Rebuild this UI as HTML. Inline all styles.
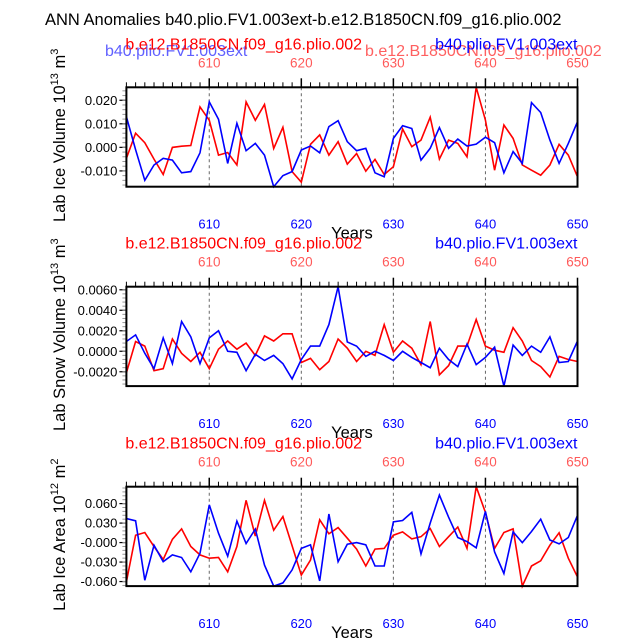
<!DOCTYPE html>
<html><head><meta charset="utf-8"><style>
html,body{margin:0;padding:0;background:#fff}
svg{display:block;font-family:"Liberation Sans",sans-serif}
</style></head><body>
<svg id="chart" width="638" height="638" viewBox="0 0 638 638" xmlns="http://www.w3.org/2000/svg">
<text x="45" y="25" font-size="16.5" fill="#000">ANN Anomalies b40.plio.FV1.003ext-b.e12.B1850CN.f09_g16.plio.002</text>
<text x="105" y="56" font-size="16" fill="#6060ff">b40.plio.FV1.003ext</text>
<text x="365" y="56" font-size="16" fill="#ff6060">b.e12.B1850CN.f09_g16.plio.002</text>
</svg>
<script>
const years = [];
for (let y = 601; y <= 650; y++) years.push(y);
const xTicks = [610, 620, 630, 640, 650];

const iceVolRed = [-0.0047,0.006,0.002,-0.005,-0.0115,0.0,0.0005,0.0008,0.0172,0.0115,-0.0033,-0.0022,-0.0075,0.0193,0.0115,0.0182,-0.0005,0.0085,-0.0103,-0.0148,0.0013,0.0053,-0.0033,0.0024,-0.0071,-0.0026,-0.0101,-0.0051,-0.0115,-0.0082,0.0078,0.0003,0.0031,0.0128,-0.005,0.0031,0.0017,-0.004,0.0255,0.0116,-0.0097,0.0095,0.0038,-0.0075,-0.0097,-0.0118,-0.0075,0.0013,-0.0033,-0.0125];
const iceVolBlue = [0.013,-0.001,-0.014,-0.0075,-0.0047,-0.0054,-0.0108,-0.0103,-0.0023,0.0193,0.0119,-0.0068,0.0102,-0.0014,0.0017,-0.0033,-0.0167,-0.012,-0.0103,-0.0011,0.0006,-0.0023,0.0088,0.0113,0.0024,-0.0014,-0.0004,-0.0108,-0.0125,0.0038,0.0092,0.008,-0.0054,-0.0004,0.0084,-0.0004,0.0035,0.0006,0.0014,0.0043,0.002,-0.0108,-0.0018,-0.0068,0.019,0.0148,0.0031,-0.0068,0.0017,0.0109];
const iceVolTicks = [-0.010, 0.000, 0.010, 0.020];
const iceVolTickLabels = ["-0.010","0.000","0.010","0.020"];

const snowRed = [-0.0021,0.00095,0.0005,-0.0019,-0.0017,0.0012,-0.0002,-0.001,-0.0001,-0.0017,0.0002,0.001,0.0002,0.0008,-0.0004,0.0015,0.001,0.0017,0.0017,-0.0011,-0.0007,-0.0018,-0.001,0.0012,0.0003,-0.001,0.0,-0.0004,0.0026,-0.0001,0.001,0.0003,-0.0013,0.0029,-0.0023,-0.0014,0.0005,0.0005,0.0031,0.0005,0.0001,-0.0001,0.0023,0.001,-0.0009,-0.0015,-0.0025,-0.0005,-0.0008,-0.001];
const snowBlue = [0.00095,0.0016,-0.0002,-0.0017,0.0013,-0.0012,0.0029,0.0014,-0.0012,0.0013,0.002,0.0,-0.0001,-0.0019,-0.0003,-0.0009,-0.0004,-0.0012,-0.0027,-0.0008,0.0005,0.0005,0.0026,0.0063,0.0009,0.0005,-0.0005,0.0,-0.0004,-0.0009,0.0,-0.0006,-0.0011,-0.0016,0.0003,-0.0008,-0.0015,0.0007,-0.0013,-0.0006,0.0004,-0.0034,0.0006,-0.0004,0.0005,-0.0001,0.0014,-0.0011,-0.001,0.001];
const snowTicks = [-0.002, 0.0, 0.002, 0.004, 0.006];
const snowTickLabels = ["-0.0020","0.0000","0.0020","0.0040","0.0060"];

const areaRed = [-0.0605,0.0114,0.0155,-0.006,-0.026,0.005,0.021,-0.006,-0.019,-0.024,-0.023,-0.045,-0.006,0.065,0.010,0.065,0.019,0.040,-0.005,-0.050,-0.027,0.035,0.0135,0.023,0.0067,-0.01,-0.036,-0.010,-0.009,0.0114,0.0165,0.0057,0.009,0.0217,-0.006,0.009,0.024,-0.009,0.086,0.0465,-0.009,0.0155,0.021,-0.067,-0.036,-0.028,-0.004,0.015,-0.024,-0.053];
const areaBlue = [0.037,0.0335,-0.058,-0.004,-0.0295,-0.019,-0.023,-0.045,-0.0165,0.058,0.0145,-0.021,0.033,-0.0015,0.0207,-0.0347,-0.067,-0.062,-0.042,-0.009,-0.0035,-0.059,0.044,-0.0295,-0.0025,0.0,-0.0035,-0.036,-0.036,0.032,0.034,0.0465,-0.0175,0.030,0.073,0.039,0.0078,0.0015,-0.008,0.048,-0.0145,-0.0476,0.0165,0.0,0.017,0.036,0.004,-0.002,0.0078,0.042];
const areaTicks = [-0.06, -0.03, 0.0, 0.03, 0.06];
const areaTickLabels = ["-0.060","-0.030","-0.000","0.030","0.060"];

const NS = "http://www.w3.org/2000/svg";
const svg = document.getElementById('chart');
function mk(tag, attrs, parent) {
  const e = document.createElementNS(NS, tag);
  for (const k in attrs) e.setAttribute(k, attrs[k]);
  (parent || svg).appendChild(e);
  return e;
}

function panel(idx, top, red, blue, ticks, tickLabels, ytitle, unitExp, unitPow, key) {
  const L = 126.4, R = 577.5, T = top, B = top + 99.4;
  const g = mk('g', {});
  
  
  const all = red.concat(blue);
  const vmin = Math.min(...all), vmax = Math.max(...all);
  const xs = v => L + (v - years[0]) / (years[years.length - 1] - years[0]) * (R - L);
  const ys = v => B - (v - vmin) / (vmax - vmin) * (B - T);

  xTicks.slice(0, 4).forEach(t => {
    const l = mk('line', {x1: xs(t), x2: xs(t), y1: T, y2: B, stroke: '#666', 'stroke-width': 1, 'stroke-dasharray': '3,3'}, g);
    
    
  });
  years.forEach(y => {
    const major = y % 10 === 0;
    const l = mk('line', {x1: xs(y), x2: xs(y), y1: T, y2: T - (major ? 9 : 5), stroke: '#000', 'stroke-width': major ? 1.5 : 1}, g);
    
    
  });
  ticks.forEach((t, i) => {
    const l = mk('line', {x1: L, x2: L - 7, y1: ys(t), y2: ys(t), stroke: '#000', 'stroke-width': 1.2}, g);
    
    
    const tx = mk('text', {x: L - 9, y: ys(t) + 4.5, 'font-size': 13, 'text-anchor': 'end', fill: '#000'}, g);
    
    
    tx.textContent = tickLabels[i];
  });
  const step = (ticks[1] - ticks[0]) / 5;
  for (let v = ticks[0] - 5 * step; v <= vmax + 1e-12; v += step) {
    if (v < vmin - 1e-12) continue;
    const l = mk('line', {x1: L, x2: L - 4, y1: ys(v), y2: ys(v), stroke: '#999', 'stroke-width': 1}, g);
    
    
  }
  [[red, '#ff0000', 'red-series'], [blue, '#0000ff', 'blue-series']].forEach(([arr, col, nm]) => {
    const p = mk('polyline', {points: arr.map((v, i) => xs(years[i]).toFixed(1) + ',' + ys(v).toFixed(1)).join(' '), fill: 'none', stroke: col, 'stroke-width': 1.6}, g);
    
    
  });
  const box = mk('rect', {x: L, y: T, width: R - L, height: B - T, fill: 'none', stroke: '#000', 'stroke-width': 2}, g);
  
  
  xTicks.forEach(t => {
    const a = mk('text', {x: xs(t), y: T - 20, 'font-size': 13.5, 'text-anchor': 'middle', fill: '#ff5a5a'}, g);
    
    
    a.textContent = t;
    const b = mk('text', {x: xs(t), y: B + 42, 'font-size': 13, 'text-anchor': 'middle', fill: '#0000ff'}, g);
    
    
    b.textContent = t;
  });
  const h1 = mk('text', {x: L - 1, y: T - 38, 'font-size': 16, fill: '#ff0000'}, g);
  
  
  h1.textContent = 'b.e12.B1850CN.f09_g16.plio.002';
  const h2 = mk('text', {x: R, y: T - 38, 'font-size': 16, 'text-anchor': 'end', fill: '#0000ff'}, g);
  
  
  h2.textContent = 'b40.plio.FV1.003ext';
  const xt = mk('text', {x: (L + R) / 2, y: B + 52, 'font-size': 16.5, 'text-anchor': 'middle', fill: '#000'}, g);
  
  
  xt.textContent = 'Years';
  const cy = T + 48;
  const yt = mk('text', {x: 0, y: 0, 'font-size': 16.5, 'text-anchor': 'middle', fill: '#000', transform: 'translate(65,' + cy + ') rotate(-90)'}, g);
  
  
  yt.appendChild(document.createTextNode(ytitle + ' 10'));
  const s1 = mk('tspan', {'font-size': 11, dy: -7}, yt); s1.textContent = unitExp;
  const s2 = mk('tspan', {dy: 7}, yt); s2.textContent = ' m';
  const s3 = mk('tspan', {'font-size': 11, dy: -7}, yt); s3.textContent = unitPow;
}

panel(0, 87.3, iceVolRed, iceVolBlue, iceVolTicks, iceVolTickLabels, 'Lab Ice Volume', '13', '3', 'ice-volume');
panel(1, 286.7, snowRed, snowBlue, snowTicks, snowTickLabels, 'Lab Snow Volume', '13', '3', 'snow-volume');
panel(2, 486.7, areaRed, areaBlue, areaTicks, areaTickLabels, 'Lab Ice Area', '12', '2', 'ice-area');
</script>
</body></html>
